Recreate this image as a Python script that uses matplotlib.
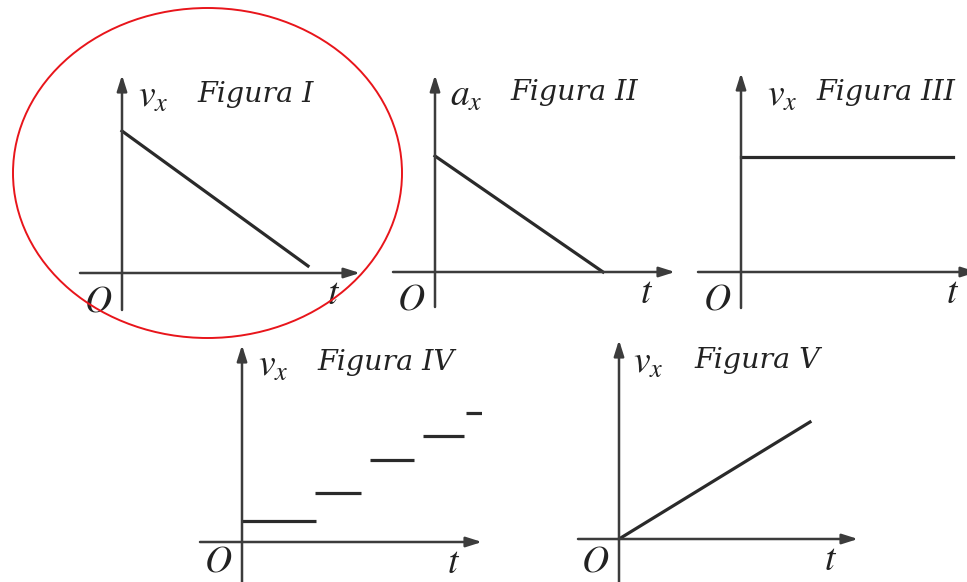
import matplotlib
matplotlib.use("Agg")
import matplotlib.pyplot as plt
from matplotlib.patches import Ellipse

plt.rcParams["mathtext.fontset"] = "stix"

# ---- data (arbitrary units: time on x, quantity on y) ----
fig1_t = [0.0, 9.3]
fig1_v = [7.1, 0.35]

fig2_t = [0.0, 8.4]
fig2_a = [5.8, 0.0]

fig3_t = [0.0, 10.6]
fig3_v = [5.75, 5.75]

fig4_t_start = [0.0, 3.65, 6.4, 9.05, 11.2]
fig4_t_end = [3.7, 5.95, 8.6, 11.1, 12.3]
fig4_v = [1.05, 2.45, 4.1, 5.3, 6.45]

fig5_t = [0.0, 9.55]
fig5_v = [0.0, 5.85]

titles = ["Figura I", "Figura II", "Figura III", "Figura IV", "Figura V"]
ylabels = [r"$v_x$", r"$a_x$", r"$v_x$", r"$v_x$", r"$v_x$"]

# ---- layout ----
W, H = 967, 582
S = 20.0  # pixels per data unit
fig = plt.figure(figsize=(W / 100, H / 100), dpi=100)
fig.patch.set_facecolor("white")

AX_COLOR = "#3c3c3c"
LINE_COLOR = "#2a2a2a"
TEXT_COLOR = "#222222"

# origin (pixels from top-left) and data extents of each panel
panels = [
    dict(ox=122, oy=273, x=(-2.1, 11.9), y=(-1.85, 9.9), lx=0.8, oy_lab=-1.4),
    dict(ox=435, oy=272, x=(-2.1, 12.0), y=(-1.75, 9.85), lx=0.75, oy_lab=-1.4),
    dict(ox=741, oy=272, x=(-2.15, 11.8), y=(-1.8, 9.95), lx=1.3, oy_lab=-1.4),
    dict(ox=242, oy=542, x=(-2.1, 12.0), y=(-2.2, 9.85), lx=0.8, oy_lab=-1.0),
    dict(ox=619, oy=539, x=(-2.05, 11.95), y=(-2.2, 9.95), lx=0.7, oy_lab=-1.1),
]

axes = []
for i, p in enumerate(panels):
    (x0, x1), (y0, y1) = p["x"], p["y"]
    rect = [(p["ox"] + x0 * S) / W, (H - p["oy"] + y0 * S) / H,
            (x1 - x0) * S / W, (y1 - y0) * S / H]
    ax = fig.add_axes(rect)
    ax.set_xlim(x0, x1)
    ax.set_ylim(y0, y1)
    ax.axis("off")
    arrow = dict(arrowstyle="-|>,head_length=0.95,head_width=0.3",
                 color=AX_COLOR, lw=1.8, shrinkA=0, shrinkB=0)
    ax.annotate("", xy=(x1, 0), xytext=(x0, 0), arrowprops=arrow,
                annotation_clip=False)
    ax.annotate("", xy=(0, y1), xytext=(0, y0), arrowprops=arrow,
                annotation_clip=False)
    txt = dict(fontsize=27, color=TEXT_COLOR, va="center")
    ax.text(p["lx"], 8.8, ylabels[i], ha="left", **txt)
    ax.text(3.75, 8.95, titles[i], ha="left", family="DejaVu Serif",
            style="italic", fontsize=20.5, color=TEXT_COLOR, va="center")
    ax.text(-1.2, p["oy_lab"], r"$O$", ha="center", **txt)
    ax.text(10.6, -1.05, r"$t$", ha="center", **txt)
    axes.append(ax)

lw = 2.3
axes[0].plot(fig1_t, fig1_v, color=LINE_COLOR, lw=lw)
axes[1].plot(fig2_t, fig2_a, color=LINE_COLOR, lw=lw)
axes[2].plot(fig3_t, fig3_v, color=LINE_COLOR, lw=lw)
axes[3].hlines(fig4_v, fig4_t_start, fig4_t_end, color=LINE_COLOR, lw=lw)
axes[4].plot(fig5_t, fig5_v, color=LINE_COLOR, lw=lw)

# red highlight around the first graph
ring = Ellipse((207.5 / W, 1 - 173 / H), 389 / W, 330 / H,
               transform=fig.transFigure, fill=False, edgecolor="#e8151b",
               lw=1.4)
fig.patches.append(ring)

fig.savefig("out.png", dpi=100, facecolor="white")
